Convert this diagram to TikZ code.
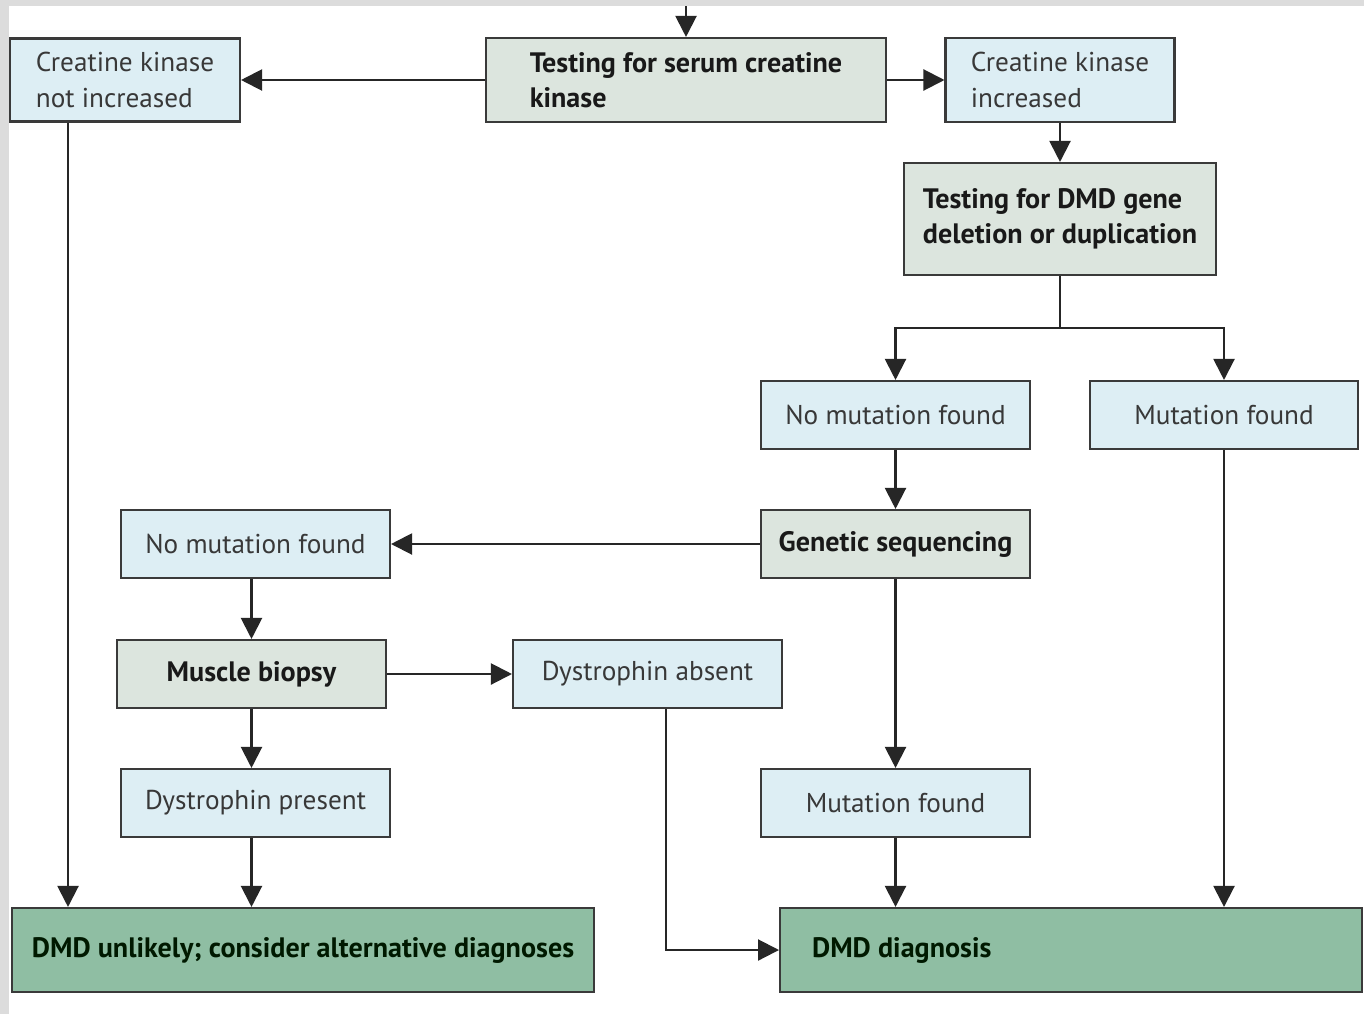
\documentclass[tikz,border=0pt]{standalone}
\usepackage{fontspec}
\setmainfont{PT Sans}
\usetikzlibrary{arrows.meta}
\definecolor{pale}{HTML}{DDEEF4}
\definecolor{sage}{HTML}{DCE5DE}
\definecolor{deep}{HTML}{8FBEA3}
\definecolor{edge}{HTML}{3A3A3A}
\definecolor{frame}{HTML}{DCDCDC}

\begin{document}
\begin{tikzpicture}[x=0.02cm,y=-0.02cm,
    box/.style={draw=edge,line width=1.2pt,minimum height=1.36cm,inner sep=0pt,align=left,
      text=black!78,font=\fontsize{15.5}{20}\selectfont},
    result/.style={box,fill=pale},
    test/.style={box,fill=sage,text=black!90,font=\bfseries\fontsize{16}{20}\selectfont},
    final/.style={box,fill=deep,minimum width=11.64cm,minimum height=1.68cm,text=black!90!green,
      font=\bfseries\fontsize{16}{20}\selectfont},
    arr/.style={-{Triangle[length=0.42cm,width=0.42cm]},line width=1.2pt,draw=black!85}]
    \fill[white] (0,0) rectangle (1364,1014);
    \fill[frame] (0,0) rectangle (1364,6);
    \fill[frame] (0,0) rectangle (9,1014);
    \node[result,minimum width=4.6cm,minimum height=1.66cm] (ckno) at (125,80) {Creatine kinase\\not increased};
    \node[test,minimum width=8cm,minimum height=1.68cm] (serum) at (686,80) {Testing for serum creatine\\kinase};
    \node[result,minimum width=4.58cm,minimum height=1.68cm] (ckup) at (1060,80) {Creatine kinase\\increased};
    \node[test,minimum width=6.24cm,minimum height=2.24cm] (gene) at (1060,219) {Testing for DMD gene\\deletion or duplication};
    \node[result,minimum width=5.38cm] (nomuta) at (895.5,415) {No mutation found};
    \node[result,minimum width=5.36cm] (muta) at (1224,415) {Mutation found};
    \node[test,minimum width=5.38cm] (seq) at (895.5,544) {Genetic sequencing};
    \node[result,minimum width=5.38cm] (nomutb) at (255.5,544) {No mutation found};
    \node[test,minimum width=5.38cm] (biopsy) at (251.5,674) {Muscle biopsy};
    \node[result,minimum width=5.38cm] (absent) at (647.5,674) {Dystrophin absent};
    \node[result,minimum width=5.38cm] (present) at (255.5,803) {Dystrophin present};
    \node[result,minimum width=5.38cm] (mutb) at (895.5,803) {Mutation found};
    \node[final] (unlikely) at (303,950) {DMD unlikely; consider alternative diagnoses};
    \node[final,text width=10.36cm,inner xsep=0.64cm,align=flush left] (diag) at (1071,950) {DMD diagnosis};

    \coordinate (in) at (686,6);
    \coordinate (split) at (1060,328);
    \draw[arr] (in) -- (serum);
    \draw[arr] (serum) -- (ckno);
    \draw[arr] (serum) -- (ckup);
    \draw[arr] (ckup) -- (gene);
    \draw[line width=1.2pt,black!85] (gene) -- (split);
    \draw[arr] (split) -| (nomuta);
    \draw[arr] (split) -| (muta);
    \draw[arr] (nomuta) -- (seq);
    \draw[arr] (seq) -- (nomutb);
    \draw[arr] (seq) -- (mutb);
    \draw[arr] (nomutb.south -| biopsy.north) -- (biopsy);
    \draw[arr] (biopsy) -- (absent);
    \draw[arr] (biopsy) -- (present.north -| biopsy.south);
    \draw[arr] (present.south -| biopsy.south) -- (unlikely.north -| biopsy.south);
    \draw[arr] ([xshift=-1.14cm]ckno.south) -- ([xshift=-1.14cm]ckno.south |- unlikely.north);
    \draw[arr] (mutb) -- (mutb |- diag.north);
    \draw[arr] (muta) -- (muta |- diag.north);
    \draw[arr] ([xshift=0.37cm]absent.south) |- (diag.west);
\end{tikzpicture}
\end{document}
